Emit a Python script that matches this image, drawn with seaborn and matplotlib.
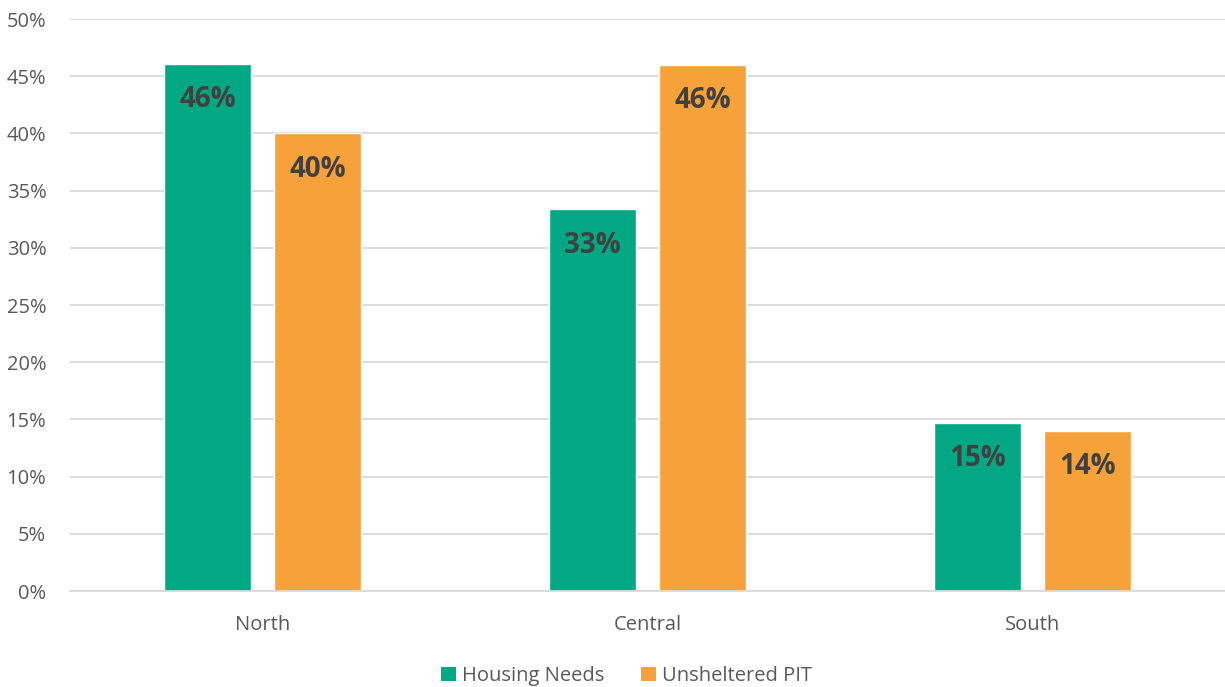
import matplotlib
matplotlib.use("Agg")
import matplotlib.pyplot as plt
import seaborn as sns
import pandas as pd
from matplotlib.ticker import PercentFormatter, MultipleLocator
from matplotlib.patches import Patch

regions = ["North", "Central", "South"]
housing_needs = [46.1, 33.4, 14.7]
unsheltered_pit = [40.0, 46.0, 14.0]
series_names = ["Housing Needs", "Unsheltered PIT"]
colors = ["#02A884", "#F7A13A"]

df = pd.DataFrame({
    "Region": regions * 2,
    "Series": [series_names[0]] * 3 + [series_names[1]] * 3,
    "Value": housing_needs + unsheltered_pit,
})

sns.set_theme(style="white")
plt.rcParams['font.family'] = ['Open Sans', 'DejaVu Sans']

fig = plt.figure(figsize=(12.25, 6.87), dpi=100)
ax = fig.add_axes([0.0571, 0.1397, 0.9429, 0.8326])

sns.barplot(data=df, x="Region", y="Value", hue="Series", palette=colors,
            width=0.571, gap=0.21, ax=ax, legend=False, saturation=1)

ax.set_ylim(0, 50)
ax.set_xlim(-0.5, 2.5)
ax.yaxis.set_major_locator(MultipleLocator(5))
ax.yaxis.set_major_formatter(PercentFormatter(decimals=0))
ax.grid(axis="y", color="#D9D9D9", linewidth=1.3)
ax.set_axisbelow(True)
for s in ["top", "right", "left"]:
    ax.spines[s].set_visible(False)
ax.spines["bottom"].set_color("#D9D9D9")
ax.spines["bottom"].set_linewidth(1.3)
ax.set_xlabel("")
ax.set_ylabel("")
ax.tick_params(axis="y", length=0, pad=17, labelsize=14.5, labelcolor="#595959")
ax.tick_params(axis="x", length=0, pad=17, labelsize=14.5, labelcolor="#595959")

for container in ax.containers:
    for bar in container:
        h = bar.get_height()
        ax.annotate(f"{h:.0f}%", (bar.get_x() + bar.get_width() / 2, h),
                    xytext=(0, -26), textcoords="offset points",
                    ha="center", va="center", fontsize=20, fontweight="bold",
                    color="#404040")

handles = [Patch(facecolor=c, edgecolor="none") for c in colors]
fig.legend(handles, series_names, loc="lower center", ncol=2, frameon=False,
           bbox_to_anchor=(0.5115, -0.025), fontsize=14.5, labelcolor="#595959",
           handlelength=0.75, handleheight=0.75, handletextpad=0.3, columnspacing=1.8)

fig.savefig("out.png", dpi=100)
